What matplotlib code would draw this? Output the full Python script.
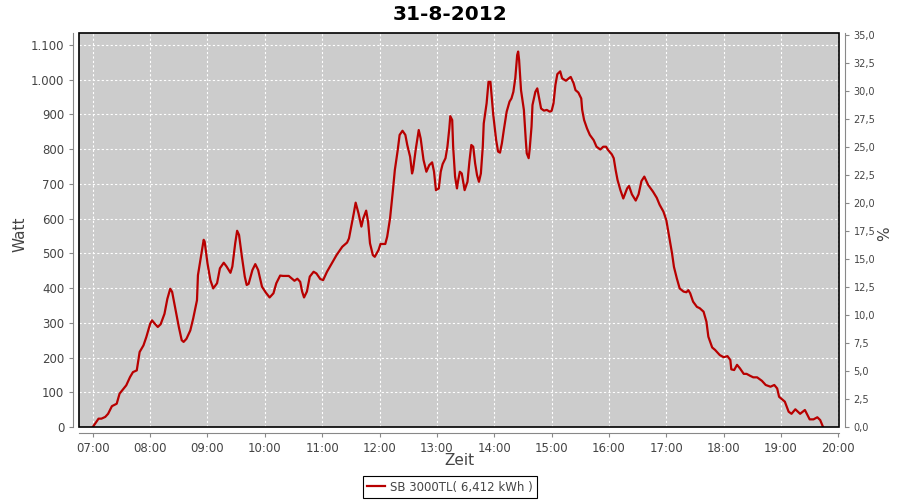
import matplotlib
matplotlib.use('Agg')
import matplotlib.pyplot as plt
from matplotlib.patches import Rectangle
from matplotlib.ticker import FuncFormatter, MultipleLocator

title = '31-8-2012'
series_label = 'SB 3000TL( 6,412 kWh )'

# Minuten nach 07:00 und Leistung in Watt
minutes = [0, 6, 9, 13, 16, 20, 25, 28, 32, 35, 39, 42, 46, 49, 53, 56, 60, 62, 65, 68,
           71, 75, 78, 81, 83, 86, 90, 93, 95, 98, 102, 105, 109, 110, 113, 116, 117, 120, 123, 126,
           130, 133, 137, 140, 144, 146, 149, 151, 153, 156, 159, 161, 163, 167, 170, 173, 177, 181, 185, 189,
           192, 196, 199, 205, 208, 211, 214, 217, 219, 221, 224, 227, 231, 234, 238, 241, 245, 250, 255, 261,
           266, 268, 271, 273, 275, 278, 281, 283, 286, 288, 290, 293, 295, 299, 301, 306, 308, 311, 314, 316,
           319, 321, 324, 327, 329, 332, 334, 335, 338, 341, 343, 346, 349, 352, 355, 357, 359, 362, 364, 366,
           369, 371, 373, 374, 376, 377, 379, 381, 382, 384, 386, 388, 389, 392, 394, 396, 398, 400, 402, 404,
           406, 408, 409, 412, 414, 416, 417, 419, 422, 424, 426, 428, 430, 433, 436, 438, 440, 442, 444, 445,
           446, 448, 451, 453, 454, 456, 457, 459, 460, 463, 465, 467, 469, 472, 475, 478, 480, 482, 484, 486,
           489, 491, 495, 498, 500, 503, 505, 508, 511, 512, 514, 517, 520, 524, 527, 531, 534, 537, 539, 543,
           545, 547, 549, 552, 555, 559, 561, 564, 568, 571, 574, 577, 581, 586, 590, 593, 597, 600, 603, 606,
           608, 611, 614, 618, 621, 623, 625, 628, 632, 635, 639, 642, 644, 648, 651, 656, 660, 664, 667, 668,
           671, 674, 677, 681, 684, 688, 691, 695, 700, 704, 709, 713, 716, 718, 721, 724, 728, 731, 735, 740,
           745, 750, 754, 758, 761, 764]
watt = [0, 24, 24, 29, 38, 60, 67, 96, 110, 120, 144, 158, 163, 216, 235, 259, 297, 307, 297, 288,
        296, 326, 369, 398, 389, 345, 288, 250, 245, 254, 278, 312, 365, 437, 489, 539, 534, 471, 423, 399,
        414, 457, 473, 462, 444, 462, 529, 565, 553, 490, 433, 409, 412, 452, 469, 452, 404, 387, 373, 385,
        414, 436, 435, 435, 428, 421, 427, 418, 390, 373, 390, 433, 447, 442, 426, 423, 447, 471, 495, 519,
        531, 543, 586, 615, 646, 615, 577, 601, 623, 591, 529, 495, 490, 510, 527, 527, 548, 601, 682, 740,
        797, 841, 853, 841, 812, 778, 730, 740, 802, 855, 831, 769, 735, 754, 762, 735, 682, 687, 735, 757,
        774, 807, 860, 895, 884, 807, 721, 687, 706, 735, 730, 697, 682, 706, 764, 812, 807, 759, 725, 706,
        730, 807, 874, 932, 994, 994, 961, 898, 826, 793, 790, 817, 855, 908, 937, 946, 965, 1004, 1071, 1081,
        1057, 970, 913, 826, 788, 774, 798, 865, 927, 965, 975, 946, 917, 911, 913, 908, 910, 932, 985, 1016,
        1024, 1004, 997, 1004, 1008, 990, 970, 963, 946, 913, 884, 860, 841, 826, 807, 799, 807, 807, 798, 785,
        774, 740, 711, 682, 658, 687, 694, 670, 652, 670, 708, 721, 697, 678, 660, 640, 620, 596, 548, 500,
        461, 428, 399, 390, 388, 394, 385, 361, 346, 342, 332, 303, 260, 229, 222, 207, 201, 204, 193, 166,
        164, 179, 169, 153, 153, 147, 143, 143, 133, 121, 116, 121, 111, 87, 80, 73, 44, 38, 51, 38,
        49, 22, 22, 28, 20, 0]

hour_ticks = list(range(7, 21))

hours = [7 + m / 60 for m in minutes]

text_col = '#444444'
axis_col = '#888888'

fig = plt.figure(figsize=(9, 5), dpi=100)
ax = fig.add_axes([79 / 900, 73 / 500, 760 / 900, 394 / 500])
ax.set_facecolor('#cccccc')
ax.plot(hours, watt, color='#b80000', lw=1.6, label=series_label, zorder=3)

ax.set_xlim(7 - 13.8 / 57.35, 7 + 746.2 / 57.35)
ax.set_ylim(0, 394 / 0.3473)
ax.set_xticks(hour_ticks)
ax.xaxis.set_major_formatter(FuncFormatter(lambda v, p: f'{int(round(v)):02d}:00'))
ax.yaxis.set_major_locator(MultipleLocator(100))
ax.yaxis.set_major_formatter(FuncFormatter(lambda v, p: f'{int(v):,}'.replace(',', '.')))
ax.grid(True, color='white', linestyle=(0, (2, 2)), lw=0.8)
ax.set_axisbelow(True)

for side in ['top', 'right']:
    ax.spines[side].set_visible(False)
for side in ['left', 'bottom']:
    ax.spines[side].set_position(('outward', 4))
    ax.spines[side].set_color(axis_col)
ax.tick_params(axis='both', colors=axis_col, labelcolor=text_col, labelsize=8.5, length=3, width=0.8)

ax.set_ylabel('Watt', fontsize=11, color=text_col)
ax.yaxis.set_label_coords(-0.068, 0.49)
ax.set_xlabel('Zeit', fontsize=11, color=text_col)
ax.xaxis.set_label_coords(0.5, -0.066)

# rechte Achse in Prozent
ax2 = ax.twinx()
ax2.set_ylim(0, 35.18)
ax2.yaxis.set_major_locator(MultipleLocator(2.5))
ax2.yaxis.set_major_formatter(FuncFormatter(lambda v, p: f'{v:.1f}'.replace('.', ',')))
for side in ['top', 'left', 'bottom']:
    ax2.spines[side].set_visible(False)
ax2.spines['right'].set_position(('outward', 4))
ax2.spines['right'].set_color(axis_col)
ax2.tick_params(axis='y', colors=axis_col, labelcolor=text_col, labelsize=7, length=3, width=0.8)
ax2.set_ylabel('%', fontsize=11, color=text_col)
ax2.yaxis.set_label_coords(1.050, 0.49)

# schwarzer Rahmen um die Zeichenfläche
ax2.add_patch(Rectangle((0, 0), 1, 1, transform=ax2.transAxes, fill=False,
                        edgecolor='black', lw=1.2, clip_on=False, zorder=10))

fig.suptitle(title, fontsize=14.5, fontweight='bold', y=0.972, va='center')

leg = fig.legend(loc='center', bbox_to_anchor=(0.5, 0.026), fontsize=8.5, fancybox=False,
                 edgecolor='black', framealpha=1, handlelength=1.5, borderpad=0.35,
                 handletextpad=0.4, labelcolor=text_col)
leg.get_frame().set_linewidth(0.8)

fig.savefig('out.png', dpi=100)
plt.close(fig)
